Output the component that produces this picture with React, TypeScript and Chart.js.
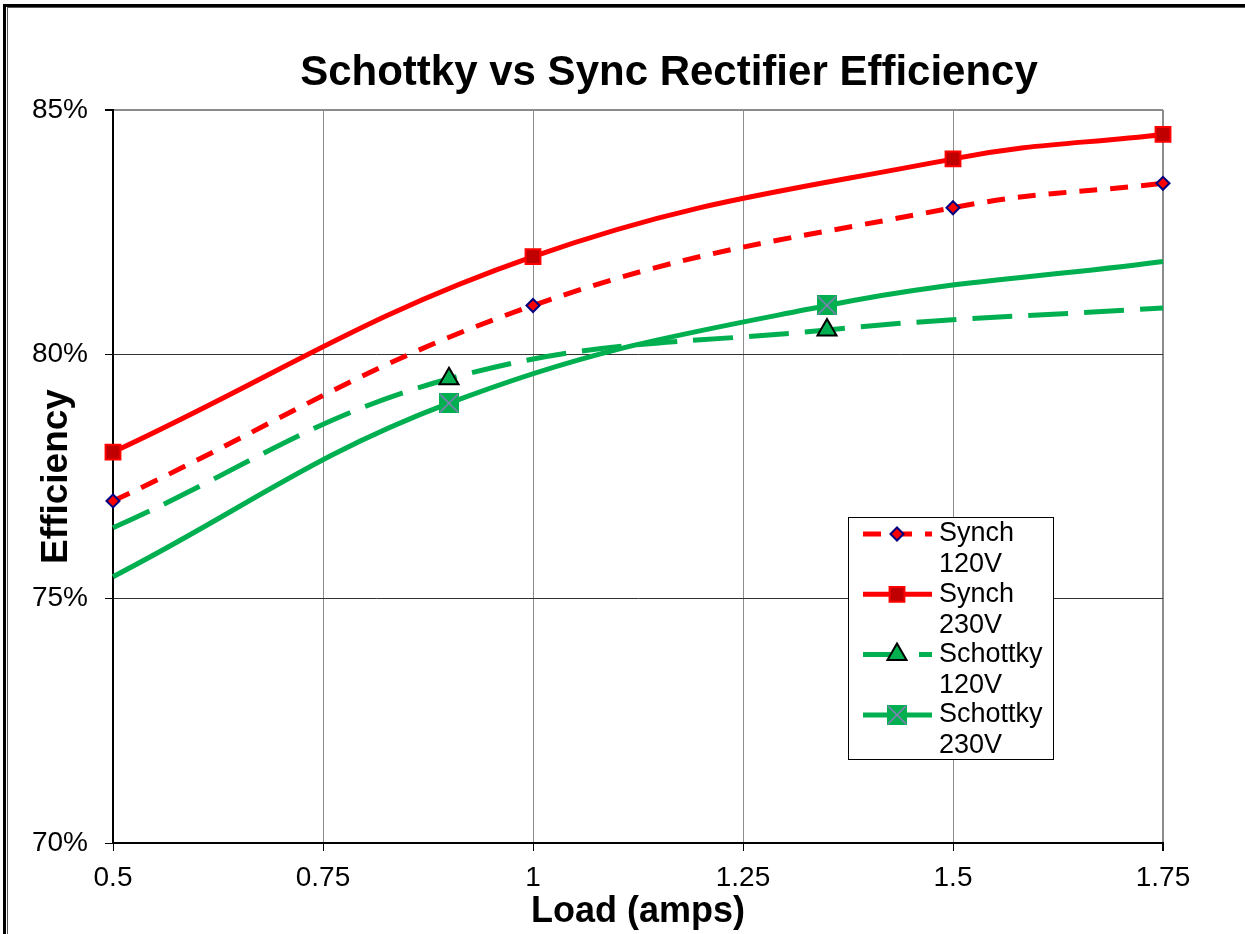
import React, { useEffect, useRef } from 'react';
import { Chart, registerables } from 'chart.js';
import { drawPoint } from 'chart.js/helpers';

Chart.register(...registerables);

const chartTitle = 'Schottky vs Sync Rectifier Efficiency';
const xAxisTitle = 'Load (amps)';
const yAxisTitle = 'Efficiency';

const xTicks = [0.5, 0.75, 1, 1.25, 1.5, 1.75];
const xTickLabels = ['0.5', '0.75', '1', '1.25', '1.5', '1.75'];
const yTicks = [70, 75, 80, 85];
const yTickLabels = ['70%', '75%', '80%', '85%'];

const synchLoads = [0.5, 1, 1.5, 1.75];
const synch120V = [77.0, 81.0, 83.0, 83.5];
const synch230V = [78.0, 82.0, 84.0, 84.5];
const schottkyLoads = [0.5, 0.9, 1.35, 1.75];
const schottky120V = [76.45, 79.5, 80.5, 80.95];
const schottky230V = [75.45, 79.0, 81.0, 81.9];
const schottkyMarkerShown = [false, true, true, false];

const seriesNames = [
  ['Synch', '120V'],
  ['Synch', '230V'],
  ['Schottky', '120V'],
  ['Schottky', '230V'],
];

const RED = '#FF0000';
const GREEN = '#00B050';
const FONT = '"Liberation Sans", Arial, sans-serif';

function makeSquareX(): HTMLCanvasElement {
  const c = document.createElement('canvas');
  c.width = 20;
  c.height = 20;
  const g = c.getContext('2d')!;
  g.fillStyle = GREEN;
  g.fillRect(0, 0, 20, 20);
  g.strokeStyle = '#8A7DB8';
  g.lineWidth = 1.6;
  g.beginPath();
  g.moveTo(1, 1);
  g.lineTo(19, 19);
  g.moveTo(19, 1);
  g.lineTo(1, 19);
  g.stroke();
  return c;
}

const framePlugin = {
  id: 'frame',
  afterDraw(chart: any) {
    const ctx = chart.ctx;
    ctx.save();
    ctx.fillStyle = '#000';
    ctx.fillRect(3, 4, 1242, 3);
    ctx.fillRect(3, 4, 3, 930);
    ctx.fillStyle = '#555';
    ctx.fillRect(7, 7, 1238, 1);
    ctx.fillRect(7, 7, 1, 927);
    ctx.restore();
  },
};

const titlePlugin = {
  id: 'mainTitle',
  afterDraw(chart: any) {
    const ctx = chart.ctx;
    ctx.save();
    ctx.font = `bold 42px ${FONT}`;
    ctx.fillStyle = '#000';
    ctx.textAlign = 'center';
    ctx.textBaseline = 'alphabetic';
    ctx.fillText(chartTitle, 669, 85);
    ctx.restore();
  },
};

const legendPlugin = {
  id: 'boxLegend',
  afterDatasetsDraw(chart: any) {
    const ctx = chart.ctx;
    const bx = 848, by = 517, bw = 205, bh = 242;
    ctx.save();
    ctx.fillStyle = '#fff';
    ctx.fillRect(bx, by, bw, bh);
    ctx.strokeStyle = '#000';
    ctx.lineWidth = 1;
    ctx.strokeRect(bx + 0.5, by + 0.5, bw, bh);
    chart.data.datasets.forEach((ds: any, i: number) => {
      const y = 534 + i * 60.3;
      ctx.save();
      ctx.strokeStyle = ds.borderColor;
      ctx.lineWidth = ds.borderWidth;
      ctx.setLineDash(ds.borderDash || []);
      ctx.beginPath();
      ctx.moveTo(863, y);
      ctx.lineTo(932, y);
      ctx.stroke();
      ctx.restore();
      ctx.save();
      const style = ds.pointStyle;
      if (typeof style === 'object') {
        ctx.drawImage(style, 897 - style.width / 2, y - style.height / 2);
      } else {
        ctx.fillStyle = ds.pointBackgroundColor;
        ctx.strokeStyle = ds.pointBorderColor;
        ctx.lineWidth = ds.pointBorderWidth;
        const r = Array.isArray(ds.pointRadius) ? Math.max(...ds.pointRadius) : ds.pointRadius;
        drawPoint(ctx, { pointStyle: style, rotation: 0, radius: r, borderWidth: ds.pointBorderWidth }, 897, y);
      }
      ctx.restore();
      ctx.fillStyle = '#000';
      ctx.font = `27px ${FONT}`;
      ctx.textAlign = 'left';
      ctx.textBaseline = 'middle';
      ctx.fillText(seriesNames[i][0], 939, y);
      ctx.fillText(seriesNames[i][1], 939, y + 31);
    });
    ctx.restore();
  },
};

export default function App() {
  const ref = useRef<HTMLCanvasElement | null>(null);
  useEffect(() => {
    if (!ref.current) return;
    const squareX = makeSquareX();
    const chart = new Chart(ref.current, {
      type: 'line',
      data: {
        datasets: [
          {
            label: 'Synch 120V',
            data: synchLoads.map((x, i) => ({ x, y: synch120V[i] })),
            borderColor: RED,
            borderWidth: 5,
            borderDash: [18, 13],
            fill: false,
            pointStyle: 'rectRot',
            pointRadius: 6.5,
            pointBackgroundColor: RED,
            pointBorderColor: '#000080',
            pointBorderWidth: 2,
            tension: 0.4,
            clip: false,
          },
          {
            label: 'Synch 230V',
            data: synchLoads.map((x, i) => ({ x, y: synch230V[i] })),
            borderColor: RED,
            borderWidth: 5,
            fill: false,
            pointStyle: 'rect',
            pointRadius: 10.5,
            pointBackgroundColor: '#C00000',
            pointBorderColor: RED,
            pointBorderWidth: 2,
            tension: 0.4,
            clip: false,
          },
          {
            label: 'Schottky 120V',
            data: schottkyLoads.map((x, i) => ({ x, y: schottky120V[i] })),
            borderColor: GREEN,
            borderWidth: 5,
            borderDash: [40, 16],
            fill: false,
            pointStyle: 'triangle',
            pointRadius: schottkyMarkerShown.map((s) => (s ? 11 : 0)),
            pointBackgroundColor: GREEN,
            pointBorderColor: '#000',
            pointBorderWidth: 2,
            tension: 0.4,
            clip: false,
          },
          {
            label: 'Schottky 230V',
            data: schottkyLoads.map((x, i) => ({ x, y: schottky230V[i] })),
            borderColor: GREEN,
            borderWidth: 5,
            fill: false,
            pointStyle: squareX,
            pointRadius: schottkyMarkerShown.map((s) => (s ? 10 : 0)),
            pointBackgroundColor: GREEN,
            pointBorderColor: GREEN,
            pointBorderWidth: 0,
            tension: 0.4,
            clip: false,
          },
        ],
      } as any,
      options: {
        responsive: false,
        animation: false,
        events: [],
        devicePixelRatio: 1,
        layout: { padding: { top: 110, right: 82, left: 0, bottom: 0 } },
        plugins: {
          legend: { display: false },
          tooltip: { enabled: false },
          title: { display: false },
        },
        scales: {
          x: {
            type: 'linear',
            min: 0.5,
            max: 1.75,
            afterBuildTicks: (s: any) => {
              s.ticks = xTicks.map((v) => ({ value: v }));
            },
            afterFit: (s: any) => {
              s.height = 91;
            },
            ticks: {
              autoSkip: false,
              maxRotation: 0,
              padding: 10,
              color: '#000',
              font: { family: FONT, size: 28 },
              callback: (v: any) => xTickLabels[xTicks.indexOf(Number(v))] ?? '',
            },
            grid: {
              color: '#8C8C8C',
              lineWidth: (c: any) => (c.tick && c.tick.value === 1.75 ? 2 : 1),
              tickColor: '#000',
              tickLength: 8,
            },
            border: { color: '#000', width: 2 },
            title: {
              display: true,
              text: xAxisTitle,
              color: '#000',
              font: { family: FONT, size: 36, weight: 'bold' },
              padding: { top: 0, bottom: 0 },
            },
          },
          y: {
            type: 'linear',
            min: 70,
            max: 85,
            afterBuildTicks: (s: any) => {
              s.ticks = yTicks.map((v) => ({ value: v }));
            },
            afterFit: (s: any) => {
              s.width = 113;
            },
            ticks: {
              padding: 17,
              color: '#000',
              font: { family: FONT, size: 28 },
              callback: (v: any) => yTickLabels[yTicks.indexOf(Number(v))] ?? '',
            },
            grid: {
              color: (c: any) => (c.tick && c.tick.value === 85 ? '#8C8C8C' : '#333333'),
              lineWidth: (c: any) => (c.tick && c.tick.value === 85 ? 2 : 1),
              tickColor: '#000',
              tickLength: 8,
            },
            border: { color: '#000', width: 2 },
            title: {
              display: true,
              text: yAxisTitle,
              color: '#000',
              font: { family: FONT, size: 37, weight: 'bold' },
              padding: { top: 35, bottom: 0 },
            },
          },
        },
      } as any,
      plugins: [legendPlugin, titlePlugin, framePlugin],
    });
    return () => chart.destroy();
  }, []);
  return (
    <div style={{ position: 'absolute', left: 0, top: 0, width: 1245, height: 934, background: '#fff' }}>
      <canvas ref={ref} width={1245} height={934} style={{ display: 'block' }} />
    </div>
  );
}
